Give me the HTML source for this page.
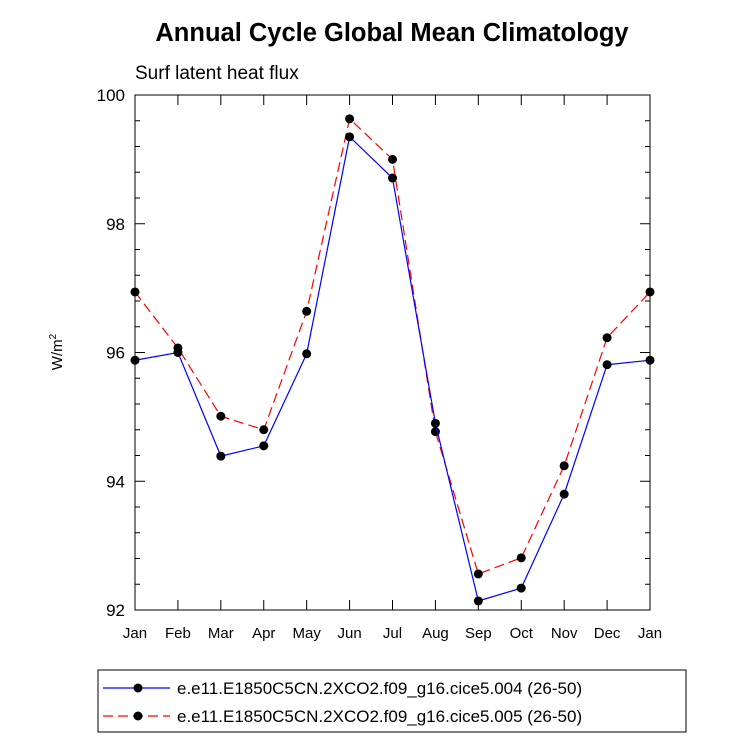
<!DOCTYPE html>
<html><head><meta charset="utf-8"><style>
body{margin:0;background:#fff;font-family:"Liberation Sans",sans-serif}
</style></head><body>
<svg width="733" height="744" xmlns="http://www.w3.org/2000/svg" font-family="Liberation Sans, sans-serif">
<rect width="733" height="744" fill="#fff"/>
<text x="392" y="41" text-anchor="middle" font-size="25.5" font-weight="bold">Annual Cycle Global Mean Climatology</text>
<text x="135" y="79" font-size="19">Surf latent heat flux</text>
<text transform="translate(62,352) rotate(-90)" text-anchor="middle" font-size="15">W/m<tspan dy="-6" font-size="10">2</tspan></text>
<g id="axes"></g>
<g id="series"></g>
<g>
<rect x="98" y="670" width="588" height="62" fill="none" stroke="#000" stroke-width="1"/>
<line x1="103" y1="688" x2="170" y2="688" stroke="#00f" stroke-width="1.2"/>
<circle cx="138" cy="688" r="4.5" fill="#000"/>
<text x="177" y="694" font-size="17">e.e11.E1850C5CN.2XCO2.f09_g16.cice5.004 (26-50)</text>
<line x1="103" y1="716" x2="170" y2="716" stroke="#f00" stroke-width="1.2" stroke-dasharray="10,5"/>
<circle cx="138" cy="716" r="4.5" fill="#000"/>
<text x="177" y="722" font-size="17">e.e11.E1850C5CN.2XCO2.f09_g16.cice5.005 (26-50)</text>
</g>
</svg>
<script>
const months=["Jan","Feb","Mar","Apr","May","Jun","Jul","Aug","Sep","Oct","Nov","Dec","Jan"];
const series004=[95.88,96.0,94.39,94.55,95.98,99.35,98.71,94.9,92.14,92.34,93.8,95.81,95.88];
const series005=[96.94,96.07,95.01,94.8,96.64,99.63,99.0,94.77,92.56,92.81,94.24,96.23,96.94];
const yTicks=[92,94,96,98,100];
const NS="http://www.w3.org/2000/svg";
const X0=135,X1=650,Y0=95,Y1=610,YMIN=92,YMAX=100;
const xs=i=>X0+(X1-X0)*i/(months.length-1);
const ys=v=>Y1-(v-YMIN)/(YMAX-YMIN)*(Y1-Y0);
function mk(tag,attrs,parent){const e=document.createElementNS(NS,tag);for(const k in attrs)e.setAttribute(k,attrs[k]);parent.appendChild(e);return e;}
const ax=document.getElementById('axes');
let frame=mk('rect',{x:X0,y:Y0,width:X1-X0,height:Y1-Y0,fill:'none',stroke:'#000','stroke-width':1},ax);


months.forEach((m,i)=>{
  const x=xs(i);
  mk('line',{x1:x,y1:Y1,x2:x,y2:Y1-10,stroke:'#000'},ax);
  mk('line',{x1:x,y1:Y0,x2:x,y2:Y0+10,stroke:'#000'},ax);
  const t=mk('text',{x:x,y:Y1+28,'text-anchor':'middle','font-size':15},ax);
  t.textContent=m;
  
  
});
for(let v=YMIN;v<=YMAX+1e-9;v+=0.4){
  const y=ys(v);const major=Math.abs(v-Math.round(v))<1e-6&&Math.round(v)%2===0;
  const L=major?10:5;
  mk('line',{x1:X0,y1:y,x2:X0+L,y2:y,stroke:'#000'},ax);
  mk('line',{x1:X1,y1:y,x2:X1-L,y2:y,stroke:'#000'},ax);
}
yTicks.forEach(v=>{
  const t=mk('text',{x:X0-10,y:ys(v)+6,'text-anchor':'end','font-size':17},ax);
  t.textContent=v;
  
  
});
const sg=document.getElementById('series');
function draw(vals,color,dash,name){
  const p=mk('polyline',{points:vals.map((v,i)=>xs(i)+','+ys(v)).join(' '),fill:'none',stroke:color,'stroke-width':1.2,'stroke-dasharray':dash},sg);
  
  
  vals.forEach((v,i)=>{
    const c=mk('circle',{cx:xs(i),cy:ys(v),r:4.5,fill:'#000'},sg);
    
    
  });
}
draw(series005,'#f00','10,5','series-005');
draw(series004,'#00f','none','series-004');
</script>
</body></html>
